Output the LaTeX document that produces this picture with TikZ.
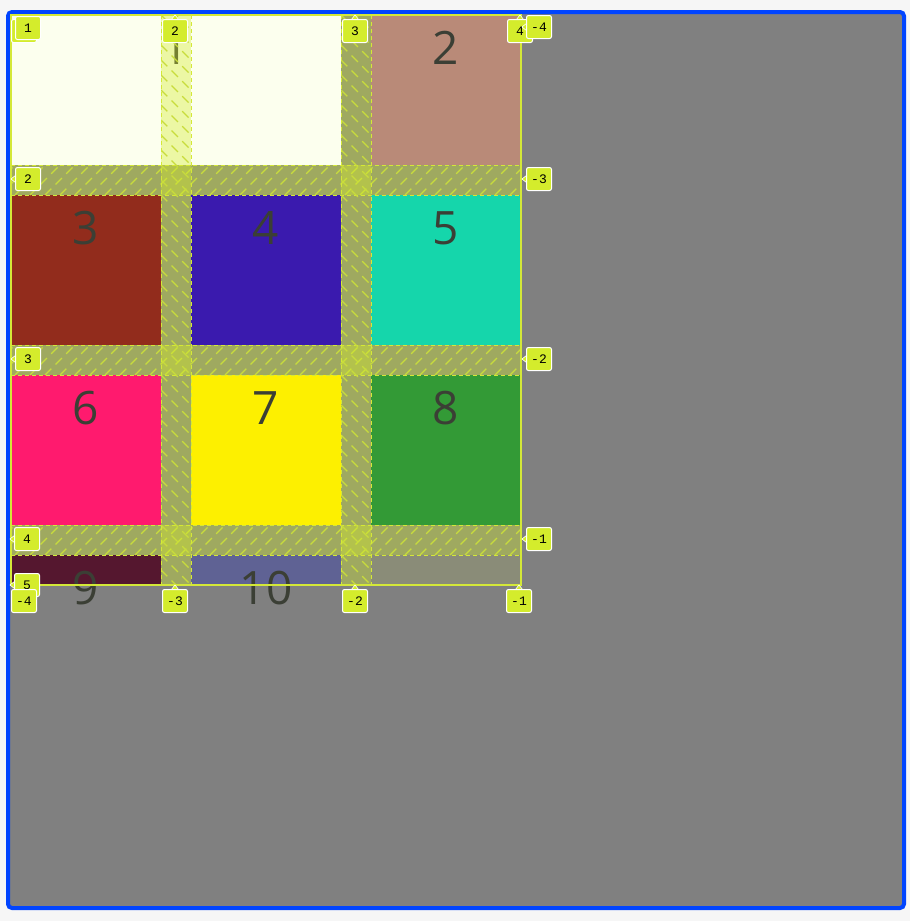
\documentclass[tikz,border=0pt]{standalone}
\usepackage{fontspec}
\setsansfont{Open Sans}
\setmonofont{Liberation Mono}
\definecolor{pagebg}{HTML}{F6F6F6}
\definecolor{boxblue}{HTML}{0044FF}
\definecolor{boxgray}{HTML}{808080}
\definecolor{itemA}{HTML}{FCFFEE}
\definecolor{itemB}{HTML}{B98A78}
\definecolor{itemC}{HTML}{922C1C}
\definecolor{itemD}{HTML}{3A1AAE}
\definecolor{itemE}{HTML}{15D6AB}
\definecolor{itemF}{HTML}{FF1A6E}
\definecolor{itemG}{HTML}{FDF000}
\definecolor{itemH}{HTML}{339A36}
\definecolor{itemI}{HTML}{55172F}
\definecolor{itemJ}{HTML}{5F6294}
\definecolor{emptycell}{HTML}{8A8C78}
\definecolor{numtext}{HTML}{3B3F35}
\definecolor{overlay}{HTML}{D4EC2C}
\definecolor{hatchline}{HTML}{C8DC3C}
\definecolor{gridline}{HTML}{D4E838}
\begin{document}
\begin{tikzpicture}[x=1pt,y=-1pt,
  cellnum/.style={font=\sffamily\fontsize{46}{46}\selectfont, text=numtext, inner sep=0pt},
  linebox/.style={fill=overlay, draw=white, line width=1pt, rounded corners=2pt,
    font=\ttfamily\fontsize{13}{13}\selectfont, text=black,
    minimum width=25pt, minimum height=23pt, inner sep=0pt},
  gapfill/.style={fill=overlay, fill opacity=0.38},
  hatch/.style={draw=hatchline, line width=1.3pt, dash pattern=on 9pt off 6pt},
  gapedge/.style={draw=gridline, line width=1pt, dash pattern=on 4pt off 3pt},
  tip/.style={fill=overlay, draw=white, line width=0.6pt}]
  \useasboundingbox (0,0) rectangle (910,921);
  \fill[pagebg] (0,0) rectangle (910,921);

  % Container
  \draw[boxblue, line width=4pt, fill=boxgray, rounded corners=4pt] (8,12) rectangle (904,908);

  % Grid items
  \fill[itemA] (11,15) rectangle (341,165);
  \fill[itemB] (371,15) rectangle (521,165);
  \fill[itemC] (11,195) rectangle (161,345);
  \fill[itemD] (191,195) rectangle (341,345);
  \fill[itemE] (371,195) rectangle (521,345);
  \fill[itemF] (11,375) rectangle (161,525);
  \fill[itemG] (191,375) rectangle (341,525);
  \fill[itemH] (371,375) rectangle (521,525);
  \fill[itemI] (11,555) rectangle (161,585);
  \fill[itemJ] (191,555) rectangle (341,585);
  \fill[emptycell] (371,555) rectangle (521,585);

  \node[cellnum] (n1) at (176,48) {1};
  \node[cellnum] (n2) at (446,48) {2};
  \node[cellnum] (n3) at (86,228) {3};
  \node[cellnum] (n4) at (266,228) {4};
  \node[cellnum] (n5) at (446,228) {5};
  \node[cellnum] (n6) at (86,408) {6};
  \node[cellnum] (n7) at (266,408) {7};
  \node[cellnum] (n8) at (446,408) {8};
  \node[cellnum] (n9) at (86,588) {9};
  \node[cellnum] (n10) at (266,588) {10};

  % Row gaps
  \foreach \ya/\yb in {165/195,345/375,525/555} {
    \fill[gapfill] (11,\ya) rectangle (521,\yb);
    \begin{scope}
      \clip (11,\ya) rectangle (521,\yb);
      \foreach \x in {-30,-15,...,540} \draw[hatch] (\x,\yb) -- ++(30,-30);
    \end{scope}
    \draw[gapedge] (11,\ya) -- (521,\ya) (11,\yb) -- (521,\yb);
  }

  % Column gaps
  \foreach \xa/\xb in {161/191,341/371} {
    \fill[gapfill] (\xa,15) rectangle (\xb,585);
    \begin{scope}
      \clip (\xa,15) rectangle (\xb,585);
      \foreach \y in {-30,-15,...,600} \draw[hatch] (\xa,\y) -- ++(30,30);
    \end{scope}
    \draw[gapedge] (\xa,15) -- (\xa,585) (\xb,15) -- (\xb,585);
  }

  \draw[gridline, line width=1.5pt] (11,15) rectangle (521,585);

  % Line numbers, top and bottom
  \foreach \px/\py/\t/\nm in {175/31/2/ctop2, 355/31/3/ctop3, 520/31/4/ctop4,
      175/601/-3/cbot3, 355/601/-2/cbot2, 519/601/-1/cbot1} {
    \fill[tip] (\px-4,\py-11) -- (\px,\py-16) -- (\px+4,\py-11) -- cycle;
    \node[linebox] (\nm) at (\px,\py) {\t};
  }

  % Line numbers, left and right
  \foreach \px/\py/\t/\nm in {28/179/2/rleft2, 28/359/3/rleft3, 27/539/4/rleft4, 27/585/5/rleft5,
      539/179/-3/rright3, 539/359/-2/rright2, 539/539/-1/rright1, 539/27/-4/rright4} {
    \fill[tip] (\px-12,\py-4) -- (\px-17,\py) -- (\px-12,\py+4) -- cycle;
    \node[linebox] (\nm) at (\px,\py) {\t};
  }

  \node[linebox] (cbot4) at (24,601) {-4};
  \node[linebox] (rleft1) at (24,31) {};
  \node[linebox] (ctop1) at (28,28) {1};
\end{tikzpicture}
\end{document}
